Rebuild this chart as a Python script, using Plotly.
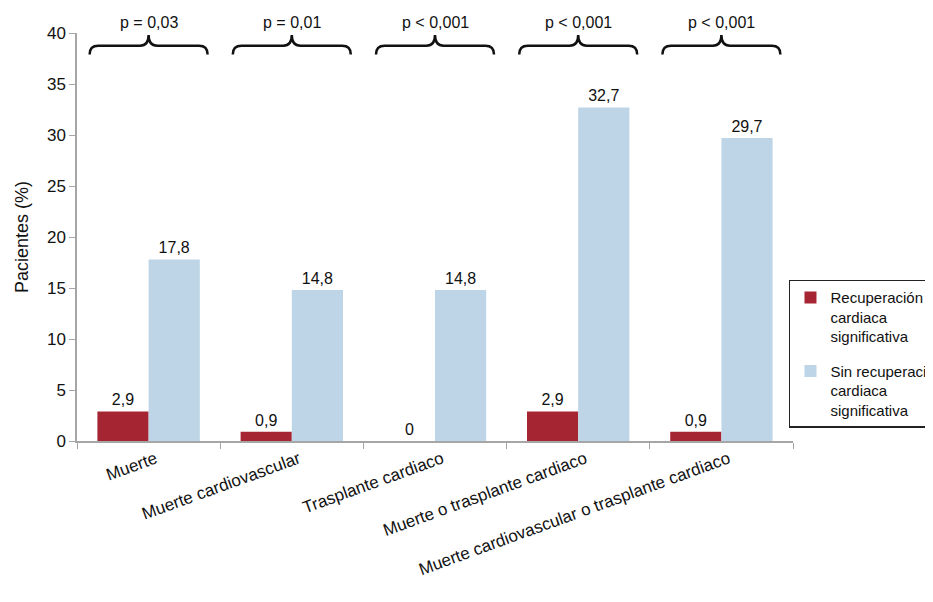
import plotly.graph_objects as go

categories = ["Muerte", "Muerte cardiovascular", "Trasplante cardiaco",
              "Muerte o trasplante cardiaco",
              "Muerte cardiovascular o trasplante cardiaco"]
recuperacion = [2.9, 0.9, 0.0, 2.9, 0.9]
sin_recuperacion = [17.8, 14.8, 14.8, 32.7, 29.7]
p_values = ["p = 0,03", "p = 0,01", "p < 0,001", "p < 0,001", "p < 0,001"]
y_ticks = [0, 5, 10, 15, 20, 25, 30, 35, 40]

RED = "#A52632"
BLUE = "#BDD5E7"
FONT = "Liberation Sans, Arial, sans-serif"


def fmt(v):
    s = ("%g" % v)
    return s.replace(".", ",")


fig = go.Figure()
fig.add_trace(go.Bar(
    x=categories, y=recuperacion, name="Recuperación<br>cardiaca<br>significativa",
    legendgroup="a",
    marker=dict(color=RED, line=dict(width=0)),
    text=[fmt(v) for v in recuperacion], textposition="outside",
    textfont=dict(size=16, color="#111"), cliponaxis=False,
))
fig.add_trace(go.Bar(
    x=categories, y=sin_recuperacion, name="Sin recuperación<br>cardiaca<br>significativa",
    legendgroup="b",
    marker=dict(color=BLUE, line=dict(width=0)),
    text=[fmt(v) for v in sin_recuperacion], textposition="outside",
    textfont=dict(size=16, color="#111"), cliponaxis=False,
))

# braces and p-values
shapes = []
annotations = []
w, r = 0.412, 0.06
yl, yp, ye = 38.75, 39.8, 37.9
for i, p in enumerate(p_values):
    c = i
    path = (f"M {c-w},{ye} Q {c-w},{yl} {c-w+r},{yl} L {c-r},{yl} "
            f"Q {c},{yl} {c},{yp} Q {c},{yl} {c+r},{yl} L {c+w-r},{yl} "
            f"Q {c+w},{yl} {c+w},{ye}")
    shapes.append(dict(type="path", xref="x", yref="y", path=path,
                       line=dict(color="#111", width=2.5)))
    annotations.append(dict(x=c, y=yp, xref="x", yref="y", text=p,
                            showarrow=False, yanchor="bottom", yshift=2,
                            font=dict(size=16, color="#111", family=FONT)))

fig.update_layout(
    width=925, height=580,
    margin=dict(l=69, r=140, t=25, b=147, autoexpand=False),
    paper_bgcolor="white", plot_bgcolor="white",
    font=dict(family=FONT, color="#111", size=16),
    barmode="group", bargap=0.285, bargroupgap=0,
    showlegend=True,
    legend=dict(x=0.9944, y=0.395, xanchor="left", yanchor="top",
                bordercolor="#222", borderwidth=1.5, bgcolor="white",
                font=dict(size=15, family=FONT, color="#111"),
                valign="top", tracegroupgap=12, itemsizing="constant"),
    shapes=shapes, annotations=annotations,
    separators=",.",
)
fig.update_xaxes(
    type="category", tickson="boundaries", ticks="outside", ticklen=6,
    tickcolor="#A6A6A6", showline=True, linecolor="#A6A6A6", linewidth=1.5,
    tickangle=-20, tickfont=dict(size=17), showgrid=False, automargin=False,
    ticklabelshift=7,
)
fig.update_yaxes(
    range=[0, 40], tickvals=y_ticks, ticks="outside", ticklen=6,
    tickcolor="#A6A6A6", showline=True, linecolor="#A6A6A6", linewidth=1.5,
    showgrid=False, zeroline=False, tickfont=dict(size=17), automargin=False,
    title=dict(text="Pacientes (%)", font=dict(size=18), standoff=14),
)

fig.write_html("out.html")
